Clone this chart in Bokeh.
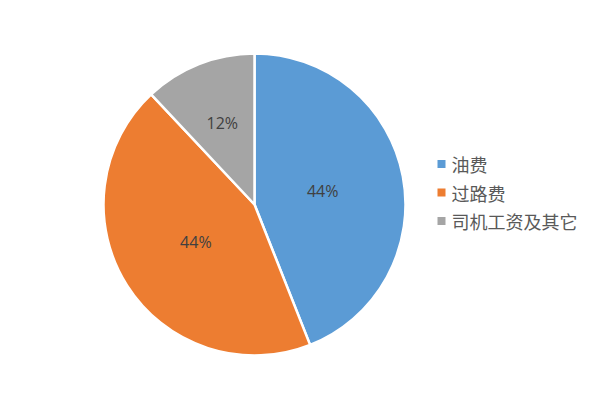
import math
from bokeh.plotting import figure
from bokeh.models import Range1d, ColumnDataSource
from bokeh.core.properties import value
from bokeh.embed import file_html
from bokeh.resources import INLINE

# data
categories = ["油费", "过路费", "司机工资及其它"]
shares = [44, 44, 12]
labels = ["44%", "44%", "12%"]

palette = ["#5B9BD5", "#ED7D31", "#A5A5A5"]

W, H = 584, 384
p = figure(width=W, height=H, output_backend="svg", toolbar_location=None,
           x_axis_location=None, y_axis_location=None, min_border=0,
           x_range=Range1d(0, W), y_range=Range1d(0, H))
p.grid.visible = False
p.outline_line_color = None
p.background_fill_color = "white"
p.border_fill_color = "white"

cx, cy, R = 254, 180, 151
total = float(sum(shares))
starts, ends, lx, ly = [], [], [], []
cum = 0.0
for s in shares:
    a0 = math.pi / 2 - 2 * math.pi * cum / total
    cum += s
    a1 = math.pi / 2 - 2 * math.pi * cum / total
    starts.append(a0)
    ends.append(a1)
    mid = (a0 + a1) / 2
    frac = 0.46 if s / total > 0.25 else 0.58
    lx.append(cx + R * frac * math.cos(mid))
    ly.append(cy + R * frac * math.sin(mid))

src = ColumnDataSource(dict(start=starts, end=ends, color=palette, cat=categories,
                            lx=lx, ly=ly, lab=labels))
p.wedge(x=cx, y=cy, radius=R, start_angle="start", end_angle="end",
        direction="clock", fill_color="color", line_color="white", line_width=2.5,
        source=src)
p.text(x="lx", y="ly", text="lab", source=src, text_align="center",
       text_baseline="middle", text_font=value("Open Sans"),
       text_font_size="16px", text_color="#404040")

# legend
leg_x = 441
leg_y0 = 220.5
leg_dy = 28.5
ys = [leg_y0 - i * leg_dy for i in range(len(categories))]
lsrc = ColumnDataSource(dict(x=[leg_x] * len(categories), y=ys, color=palette,
                             tx=[leg_x + 10] * len(categories), cat=categories))
p.scatter(x="x", y="y", marker="square", size=8, fill_color="color",
          line_color=None, source=lsrc)
p.text(x="tx", y="y", text="cat", source=lsrc, text_align="left",
       text_baseline="middle", text_font=value("Noto Sans CJK SC"),
       text_font_size="18px", text_color="#595959")

open("out.html", "w").write(file_html(p, INLINE))
